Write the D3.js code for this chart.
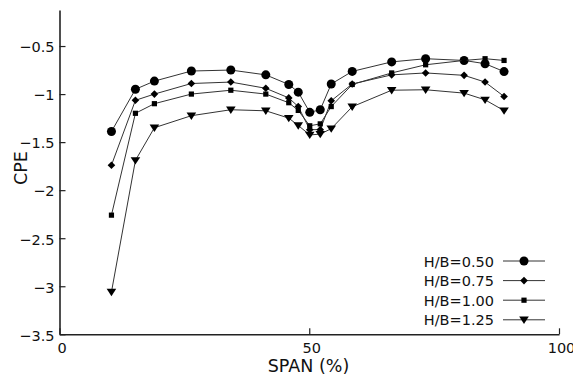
<!DOCTYPE html>
<html>
<head>
<meta charset="utf-8">
<script src="https://cdn.jsdelivr.net/npm/d3@7"></script>
<style>
  body { margin: 0; background: #fff; }
  svg text { font-family: "DejaVu Sans", Verdana, sans-serif; fill: #111; }
</style>
</head>
<body>
<svg id="chart" width="573" height="379"></svg>
<script>
// span positions (%)
var span = [10.4, 15.2, 19.0, 26.4, 34.3, 41.3, 45.9, 47.8, 50.1, 52.2, 54.4, 58.6, 66.5, 73.3, 81.0, 85.2, 89.0];

// CPE per H/B ratio
var hb050 = [-1.39, -0.95, -0.865, -0.76, -0.75, -0.80, -0.90, -0.98, -1.19, -1.163, -0.895, -0.764, -0.665, -0.632, -0.65, -0.684, -0.766];
var hb075 = [-1.74, -1.065, -1.0, -0.89, -0.875, -0.94, -1.04, -1.13, -1.37, -1.37, -1.07, -0.895, -0.80, -0.78, -0.805, -0.875, -1.025];
var hb100 = [-2.26, -1.2, -1.10, -1.0, -0.96, -1.0, -1.09, -1.17, -1.33, -1.31, -1.13, -0.90, -0.78, -0.695, -0.65, -0.632, -0.65];
var hb125 = [-3.06, -1.69, -1.35, -1.225, -1.163, -1.174, -1.25, -1.327, -1.425, -1.417, -1.36, -1.132, -0.96, -0.955, -0.99, -1.06, -1.172];

var seriesNames = ["H/B=0.50", "H/B=0.75", "H/B=1.00", "H/B=1.25"];
var markers = ["circle", "diamond", "square", "triangle"];
var xTicks = [0, 50, 100];
var yTicks = [-0.5, -1, -1.5, -2, -2.5, -3, -3.5];

var series = [hb050, hb075, hb100, hb125].map(function (vals, i) {
    return { name: seriesNames[i], marker: markers[i], points: vals.map(function (v, j) { return [span[j], v]; }) };
});

var svg = d3.select("#chart");
var mLeft = 59.5, mRight = 559, mTop = 10, mBottom = 334.3;

var x = d3.scaleLinear().domain([0, 100]).range([mLeft, mRight]);
var y = d3.scaleLinear().domain([-3.5, -0.125]).range([mBottom, mTop]);

// marker shapes
function marker(sel, type) {
    if (type === "circle") {
        sel.append("circle").attr("r", 4.5);
    } else if (type === "diamond") {
        sel.append("path").attr("d", "M0,-3.8L3.8,0L0,3.8L-3.8,0Z");
    } else if (type === "square") {
        sel.append("rect").attr("x", -2.6).attr("y", -2.6).attr("width", 5.2).attr("height", 5.2);
    } else {
        sel.append("path").attr("d", "M-4.8,-3.2L4.8,-3.2L0,4.2Z");
    }
}

// axes
var xAxis = svg.append("g")
    .attr("transform", "translate(0," + mBottom + ")")
    .call(d3.axisBottom(x).tickValues(xTicks).tickSizeInner(-6).tickSizeOuter(0).tickPadding(8));
xAxis.selectAll("text").attr("dx", 2).style("font-size", "14.5px");

var yAxis = svg.append("g")
    .attr("transform", "translate(" + mLeft + ",0)")
    .call(d3.axisLeft(y).tickValues(yTicks).tickFormat(d3.format("")).tickSizeInner(-6).tickSizeOuter(0).tickPadding(5));
yAxis.selectAll("text").attr("dy", "0.4em").style("font-size", "14.5px");

svg.selectAll(".domain").attr("stroke", "#222").attr("stroke-width", 1.6);
svg.selectAll(".tick line").attr("stroke", "#222").attr("stroke-width", 1.2);

svg.append("text")
    .attr("transform", "translate(27,168) rotate(-90)")
    .attr("text-anchor", "middle")
    .style("font-size", "17.5px")
    .text("CPE");

svg.append("text")
    .attr("x", 308.5).attr("y", 372)
    .attr("text-anchor", "middle")
    .style("font-size", "17.5px")
    .text("SPAN (%)");

// lines + markers
var line = d3.line().x(function (d) { return x(d[0]); }).y(function (d) { return y(d[1]); });

var g = svg.selectAll(".series").data(series).enter().append("g").attr("class", "series");

g.append("path")
    .attr("d", function (d) { return line(d.points); })
    .attr("fill", "none")
    .attr("stroke", "#333")
    .attr("stroke-width", 1);

g.each(function (s) {
    d3.select(this).selectAll(".pt").data(s.points).enter().append("g")
        .attr("class", "pt")
        .attr("transform", function (d) { return "translate(" + x(d[0]) + "," + y(d[1]) + ")"; })
        .attr("fill", "#000")
        .each(function () { marker(d3.select(this), s.marker); });
});

// legend
var legend = svg.append("g").selectAll("g").data(series).enter().append("g")
    .attr("transform", function (d, i) { return "translate(0," + (261 + i * 19.6) + ")"; });

legend.append("text")
    .attr("x", 494).attr("y", 5.5)
    .attr("text-anchor", "end")
    .style("font-size", "14.5px")
    .text(function (d) { return d.name; });

legend.append("line")
    .attr("x1", 503).attr("x2", 545)
    .attr("stroke", "#333").attr("stroke-width", 1);

legend.each(function (s) {
    var m = d3.select(this).append("g").attr("transform", "translate(524,0)").attr("fill", "#000");
    marker(m, s.marker);
});
</script>
</body>
</html>
